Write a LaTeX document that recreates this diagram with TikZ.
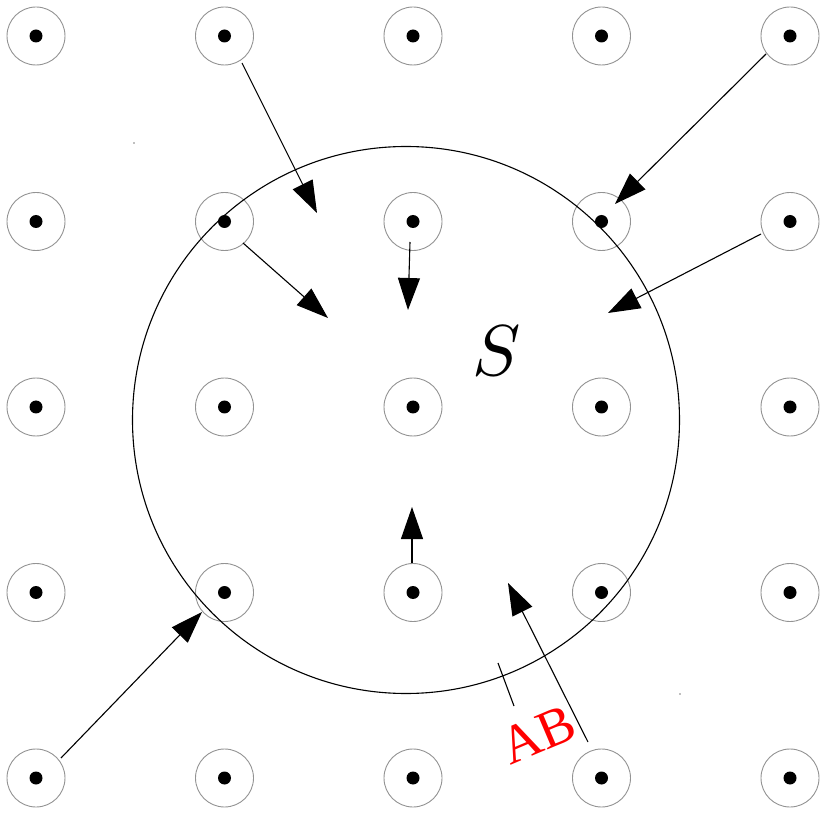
\documentclass[tikz,border=0pt]{standalone}
\usepackage{fontspec}
\newfontfamily\abfont{Liberation Serif}
\usetikzlibrary{arrows.meta}
\begin{document}
\begin{tikzpicture}[x=1pt,y=-1pt,
  cell/.style={circle,draw=gray!85,line width=0.9pt,minimum size=58pt,inner sep=0pt},
  dotmark/.style={circle,fill=black,minimum size=13pt,inner sep=0pt},
  flux/.style={line width=1.1pt,-{Triangle[length=32pt,width=22pt]}},
  plain/.style={line width=1.1pt},
  speck/.style={circle,fill=gray,minimum size=1.6pt,inner sep=0pt}]
\useasboundingbox (0,0) rectangle (823,813);
\foreach \i in {0,...,4} \foreach \j in {0,...,4} {
  \node[cell] (g\i\j) at ({36+188.5*\i},{36+185.5*\j}) {};
  \node[dotmark] (d\i\j) at (g\i\j.center) {};
}
\node[circle,draw,line width=1.1pt,minimum size=547pt,inner sep=0pt] (big) at (406,420) {};
\node[scale=7.2] (S) at (497,351) {$S$};
\node[red,rotate=23,scale=5.4] (AB) at (538,735) {\abfont AB};
\node[speck] (s1) at (134,143) {};
\node[speck] (s2) at (680,694) {};
% arrows
\coordinate (a1s) at (242,63);  \coordinate (a1e) at (317,213);
\coordinate (a2s) at (766,54);  \coordinate (a2e) at (615,204);
\coordinate (a3s) at (243,243); \coordinate (a3e) at (328,318);
\coordinate (a4s) at (410,242); \coordinate (a4e) at (408,310);
\coordinate (a5s) at (761,234); \coordinate (a5e) at (608,313);
\coordinate (a6s) at (412,563); \coordinate (a6e) at (412,507);
\coordinate (a7s) at (61,758);  \coordinate (a7e) at (202,612);
\coordinate (a8s) at (588,742); \coordinate (a8e) at (508,583);
\coordinate (t1) at (498,663);  \coordinate (t2) at (514,706);
\foreach \k in {1,...,8} \draw[flux] (a\k s) -- (a\k e);
\draw[plain] (t1) -- (t2);
\end{tikzpicture}
\end{document}
